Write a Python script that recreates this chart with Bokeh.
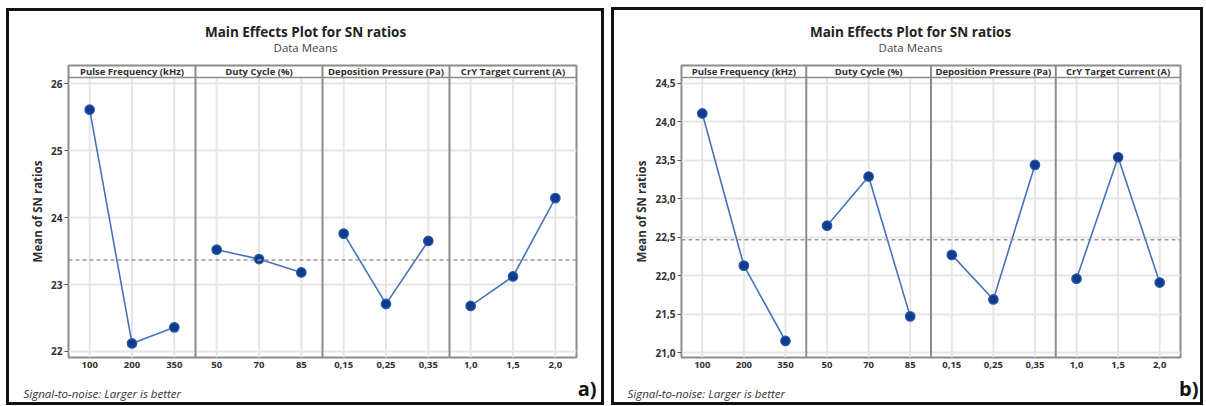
import numpy as np
from bokeh.plotting import figure
from bokeh.layouts import row, column
from bokeh.models import Span, FixedTicker, CustomJSTickFormatter
from bokeh.core.properties import value
from bokeh.embed import file_html
from bokeh.resources import INLINE

FONT = "Open Sans"

# factors and their levels
factors = ["Pulse Frequency (kHz)", "Duty Cycle (%)", "Deposition Pressure (Pa)", "CrY Target Current (A)"]
levels_pulse = ["100", "200", "350"]
levels_duty = ["50", "70", "85"]
levels_pressure = ["0,15", "0,25", "0,35"]
levels_current = ["1,0", "1,5", "2,0"]

# a) mean SN ratios per level
a_pulse = [25.61, 22.12, 22.36]
a_duty = [23.52, 23.38, 23.18]
a_pressure = [23.76, 22.71, 23.65]
a_current = [22.68, 23.12, 24.29]

# b) mean SN ratios per level
b_pulse = [24.11, 22.13, 21.15]
b_duty = [22.65, 23.29, 21.47]
b_pressure = [22.27, 21.69, 23.44]
b_current = [21.96, 23.54, 21.91]

a_yticks = [22, 23, 24, 25, 26]
b_yticks = [21.0, 21.5, 22.0, 22.5, 23.0, 23.5, 24.0, 24.5]

LINE = "#4473b9"
DOT_FILL = "#0f3c8f"
DOT_EDGE = "#2a58a6"
FRAME = "#8c8c8c"
GRID = "#e6e6e6"
TXT = "#303030"

AXIS_BAND = 16   # room under the frame for the x tick labels


def text_strip(width, height):
    """A bare figure used only to hold text, in pixel-like coordinates (y down)."""
    s = figure(width=width, height=height, x_range=(0, width), y_range=(height, 0),
               output_backend="svg", toolbar_location=None, tools="", title=None,
               x_axis_type=None, y_axis_type=None, min_border=0,
               min_border_left=0, min_border_right=0, min_border_top=0, min_border_bottom=0,
               background_fill_color="white", border_fill_color="white")
    s.outline_line_color = None
    return s


def main_effects(series, level_sets, yticks, y_lo, y_hdr, y_top, width, height,
                 frame_top, frame_bottom, mb, decimals, title_xy, note_xy, tag, tag_xy):
    """One main-effects chart: four factor panels sharing a y scale."""
    ml, mr = mb
    main_h = frame_bottom + AXIS_BAND - (frame_top - 2)
    p = figure(width=width, height=main_h, x_range=(-0.5, 11.5), y_range=(y_lo, y_top),
               output_backend="svg", toolbar_location=None, tools="", title=None,
               min_border_left=ml, min_border_right=mr, min_border_top=2,
               min_border_bottom=AXIS_BAND, background_fill_color="white",
               border_fill_color="white")

    xs = list(range(12))
    # vertical gridlines stop below the factor header strip
    p.segment(x0=xs, y0=[y_lo] * 12, x1=xs, y1=[y_hdr] * 12, line_color=GRID, line_width=2)
    p.xgrid.visible = False
    p.ygrid.ticker = FixedTicker(ticks=yticks)
    p.ygrid.grid_line_color = GRID
    p.ygrid.grid_line_width = 2

    grand = float(np.mean(np.concatenate([np.asarray(s) for s in series])))
    p.add_layout(Span(location=grand, dimension="width", line_color="#9b9b9b",
                      line_width=1.5, line_dash="4 3"))

    for k, vals in enumerate(series):
        x = [3 * k, 3 * k + 1, 3 * k + 2]
        p.line(x, vals, line_color=LINE, line_width=1.6)
        p.scatter(x, vals, size=9.5, fill_color=DOT_FILL, line_color=DOT_EDGE, line_width=1.2)

    for k in range(1, 4):
        p.add_layout(Span(location=3 * k - 0.5, dimension="height", line_color=FRAME, line_width=2))
    p.add_layout(Span(location=y_hdr, dimension="width", line_color=FRAME, line_width=1.5))

    p.text(x=[1, 4, 7, 10], y=[(y_hdr + y_top) / 2] * 4, text=factors,
           text_font=value(FONT), text_font_size="9.5px", text_font_style="bold",
           text_align="center", text_baseline="middle", text_color=TXT)

    p.outline_line_color = FRAME
    p.outline_line_width = 2

    labels = [lab for lv in level_sets for lab in lv]
    p.xaxis.ticker = FixedTicker(ticks=xs)
    p.xaxis.major_label_overrides = {i: lab for i, lab in enumerate(labels)}
    p.xaxis.axis_line_color = None
    p.xaxis.major_tick_line_color = None
    p.xaxis.minor_tick_line_color = None
    p.xaxis.major_tick_out = 0
    p.xaxis.major_label_standoff = 4
    p.xaxis.major_label_text_font = FONT
    p.xaxis.major_label_text_font_size = "9.5px"
    p.xaxis.major_label_text_font_style = "bold"
    p.xaxis.major_label_text_color = TXT

    p.yaxis.ticker = FixedTicker(ticks=yticks)
    p.yaxis.formatter = CustomJSTickFormatter(
        args=dict(d=decimals), code="return tick.toFixed(d).replace('.', ',');")
    p.yaxis.axis_line_color = None
    p.yaxis.minor_tick_line_color = None
    p.yaxis.major_tick_line_color = "#555555"
    p.yaxis.major_tick_out = 4
    p.yaxis.major_tick_in = 0
    p.yaxis.major_label_standoff = 2
    p.yaxis.major_label_text_font = FONT
    p.yaxis.major_label_text_font_size = "10px"
    p.yaxis.major_label_text_font_style = "bold"
    p.yaxis.major_label_text_color = TXT
    p.yaxis.axis_label = "Mean of SN ratios"
    p.yaxis.axis_label_text_font = FONT
    p.yaxis.axis_label_text_font_size = "11.5px"
    p.yaxis.axis_label_text_font_style = "bold"
    p.yaxis.axis_label_text_color = TXT
    p.yaxis.axis_label_standoff = 3

    # heading above the panels
    top = text_strip(width, frame_top - 2)
    tx, ty = title_xy
    top.text(x=[tx, tx], y=[ty, ty + 16], text=["Main Effects Plot for SN ratios", "Data Means"],
             text_font=value(FONT), text_font_size=["13.5px", "11.5px"],
             text_font_style=["bold", "normal"], text_color=["#222222", "#444444"],
             text_align="center", text_baseline="middle")

    # footnote and panel tag below
    strip_h = height - frame_bottom - AXIS_BAND
    bottom = text_strip(width, strip_h)
    nx, ny = note_xy
    bottom.text(x=[nx], y=[ny], text=["Signal-to-noise: Larger is better"],
                text_font=value(FONT), text_font_size="11.5px", text_font_style="italic",
                text_color="#333333", text_align="left", text_baseline="middle")
    gx, gy = tag_xy
    bottom.text(x=[gx], y=[gy], text=[tag], text_font=value(FONT), text_font_size="20px",
                text_font_style="bold", text_color="#111111", text_align="right",
                text_baseline="middle")

    # strips sit in their own rows so their frames span the full width
    col = column(row(top), p, row(bottom), spacing=0)
    col.styles = {"outline": "3px solid #111111"}
    return col


ca = main_effects([a_pulse, a_duty, a_pressure, a_current],
                  [levels_pulse, levels_duty, levels_pressure, levels_current],
                  a_yticks, 21.91, 26.09, 26.27, 592, 391, 54, 346,
                  (59, 25), 0, (296, 20), (14, 20), "a)", (587, 15))
ca.margin = (11, 6, 0, 9)

cb = main_effects([b_pulse, b_duty, b_pressure, b_current],
                  [levels_pulse, levels_duty, levels_pressure, levels_current],
                  b_yticks, 20.935, 24.578, 24.734, 586, 392, 55, 347,
                  (67, 20), 1, (296, 21), (13, 20), "b)", (584, 15))
cb.margin = (10, 6, 0, 7)

layout = row(ca, cb, spacing=0)
open("out.html", "w").write(file_html(layout, INLINE))
